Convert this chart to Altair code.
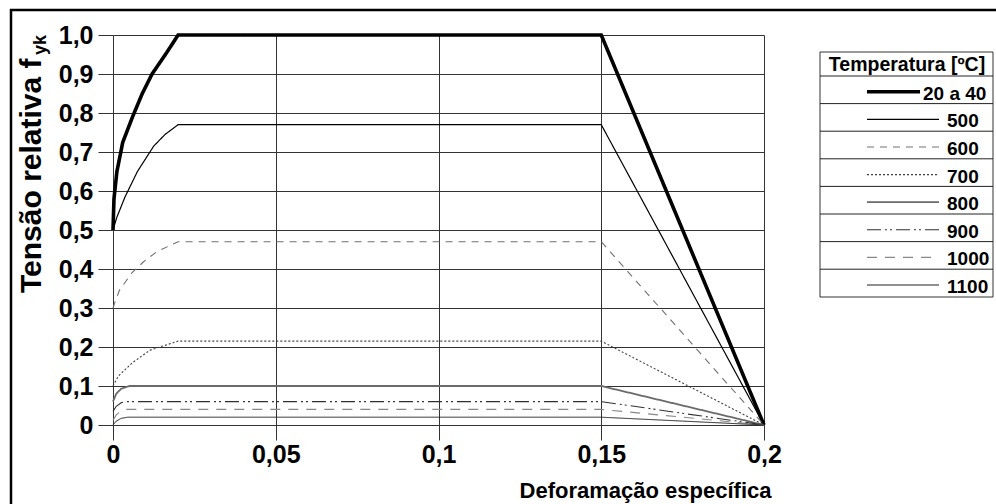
import altair as alt
import pandas as pd

FONT = "Liberation Sans"

# ---- data ----
temps = ["20 a 40", "500", "600", "700", "800", "900", "1000", "1100"]

eps_20 = [0, 0.0003, 0.0012, 0.003, 0.006, 0.009, 0.012, 0.0165, 0.02, 0.15, 0.2]
sig_20 = [0.50, 0.58, 0.65, 0.725, 0.79, 0.85, 0.90, 0.955, 1.0, 1.0, 0.0]

eps_500 = [0, 0.0012, 0.0037, 0.0075, 0.0125, 0.016, 0.02, 0.15, 0.2]
sig_500 = [0.50, 0.533, 0.585, 0.65, 0.715, 0.745, 0.77, 0.77, 0.0]

eps_600 = [0, 0.0006, 0.002, 0.0058, 0.0093, 0.0134, 0.02, 0.15, 0.2]
sig_600 = [0.30, 0.315, 0.346, 0.39, 0.418, 0.444, 0.47, 0.47, 0.0]

eps_700 = [0, 0.0016, 0.006, 0.0114, 0.0144, 0.02, 0.15, 0.2]
sig_700 = [0.10, 0.125, 0.16, 0.192, 0.20, 0.215, 0.215, 0.0]

eps_800 = [0, 0.001, 0.0025, 0.005, 0.15, 0.2]
sig_800 = [0.06, 0.08, 0.093, 0.10, 0.10, 0.0]

eps_900 = [0, 0.001, 0.0025, 0.004, 0.15, 0.2]
sig_900 = [0.035, 0.048, 0.057, 0.06, 0.06, 0.0]

eps_1000 = [0, 0.001, 0.0025, 0.004, 0.15, 0.2]
sig_1000 = [0.012, 0.026, 0.036, 0.04, 0.04, 0.0]

eps_1100 = [0, 0.001, 0.0025, 0.0045, 0.15, 0.2]
sig_1100 = [0.0, 0.01, 0.017, 0.02, 0.02, 0.0]

x_ticks = [0, 0.05, 0.1, 0.15, 0.2]
y_ticks = [0, 0.1, 0.2, 0.3, 0.4, 0.5, 0.6, 0.7, 0.8, 0.9, 1.0]

# ---- styles ----
colors = ["#000000", "#000000", "#707070", "#404040", "#6a6a6a", "#303030", "#888888", "#202020"]
widths = [3.6, 1.2, 1.1, 1.1, 1.8, 1.1, 1.1, 1.0]
dashes = [[1, 0], [1, 0], [7, 6], [2, 2], [1, 0], [14, 4, 2, 3, 2, 4], [10, 8], [1, 0]]

eps_all = [eps_20, eps_500, eps_600, eps_700, eps_800, eps_900, eps_1000, eps_1100]
sig_all = [sig_20, sig_500, sig_600, sig_700, sig_800, sig_900, sig_1000, sig_1100]

rows = []
for t, es, ss in zip(temps, eps_all, sig_all):
    for i, (e, s) in enumerate(zip(es, ss)):
        rows.append({"temp": t, "eps": e, "sig": s, "idx": i})
df = pd.DataFrame(rows)

legend_df = pd.DataFrame({"temp": temps, "row": list(range(len(temps)))})

color_scale = alt.Scale(domain=temps, range=colors)
dash_scale = alt.Scale(domain=temps, range=dashes)

# nested conditional expression: temperature label -> stroke width
width_expr = str(widths[-1])
for t, w in reversed(list(zip(temps[:-1], widths[:-1]))):
    width_expr = f"(datum.temp === '{t}' ? {w} : {width_expr})"

W, H = 651, 390

xaxis = alt.Axis(
    values=x_ticks,
    labelExpr="replace(format(datum.value, '~g'), '.', ',')",
    grid=True, gridColor="#333333", gridWidth=1,
    tickSize=15, tickColor="#333333", domain=False,
    labelFont=FONT, labelFontSize=25, labelFontWeight="bold", labelColor="black",
    labelPadding=2, labelFlush=False, labelOverlap=False,
    title="Deforamação específica", titleFont=FONT, titleFontSize=22,
    titleFontWeight="bold", titleColor="black",
    titleAnchor="end", titleAlign="right", titleBaseline="alphabetic",
    titleX=W + 7, titleY=72,
)
yaxis = alt.Axis(
    values=y_ticks,
    labelExpr="datum.value == 0 ? '0' : replace(format(datum.value, '.1f'), '.', ',')",
    grid=True, gridColor="#333333", gridWidth=1,
    tickSize=15, tickColor="#333333", domain=False,
    labelFont=FONT, labelFontSize=25, labelFontWeight="bold", labelColor="black",
    labelPadding=5, labelOverlap=False, labelFlush=False,
    title=None,
)

lines = alt.Chart(df).transform_calculate(sw=width_expr).mark_line(
    strokeCap="butt", strokeJoin="miter"
).encode(
    x=alt.X("eps:Q", scale=alt.Scale(domain=[0, 0.2], nice=False), axis=xaxis),
    y=alt.Y("sig:Q", scale=alt.Scale(domain=[0, 1], nice=False), axis=yaxis),
    color=alt.Color("temp:N", scale=color_scale, legend=None),
    strokeWidth=alt.StrokeWidth("sw:Q", scale=None, legend=None),
    strokeDash=alt.StrokeDash("temp:N", scale=dash_scale, legend=None),
    order=alt.Order("idx:Q"),
    detail="temp:N",
)

one = pd.DataFrame({"k": [0]})

# y-axis title with subscript
ytitle = alt.Chart(one).mark_text(
    text="Tensão relativa f", font=FONT, fontSize=30, fontWeight="bold",
    angle=270, align="left", baseline="alphabetic", color="black",
).encode(x=alt.value(-72), y=alt.value(258))
ysub = alt.Chart(one).mark_text(
    text="yk", font=FONT, fontSize=18, fontWeight="bold",
    angle=270, align="left", baseline="alphabetic", color="black",
).encode(x=alt.value(-67), y=alt.value(20))

# outer frame (left and top edges visible)
frame_l = alt.Chart(one).mark_rule(color="black", strokeWidth=2.5).encode(
    x=alt.value(-102), y=alt.value(-26), y2=alt.value(500))
frame_t = alt.Chart(one).mark_rule(color="black", strokeWidth=2.5).encode(
    x=alt.value(-103), x2=alt.value(900), y=alt.value(-25))

# ---- legend table ----
LX0, LX1 = 707, 880
TOP, TITLE_B, ROW_H = 17, 41, 27.6

box = alt.Chart(one).mark_rect(fill="white", stroke="#333333", strokeWidth=1).encode(
    x=alt.value(LX0), x2=alt.value(LX1), y=alt.value(TOP), y2=alt.value(262))

ltitle = alt.Chart(one).mark_text(
    text="Temperatura [ºC]", font=FONT, fontSize=19.5, fontWeight="bold",
    align="center", baseline="middle", color="black",
).encode(x=alt.value((LX0 + LX1) / 2 + 0.5), y=alt.value(30))

leg_base = alt.Chart(legend_df).transform_calculate(
    sep_y=f"{TITLE_B} + {ROW_H} * datum.row",
    line_y=f"{TITLE_B} + {ROW_H} * (datum.row + 0.5) + 2",
    text_y=f"{TITLE_B} + {ROW_H} * (datum.row + 0.5) + 4",
    lx1="754",
    lx2="datum.temp === '20 a 40' ? 807 : 826",
    sx1=f"{LX0}",
    sx2=f"{LX1}",
    tx="datum.temp === '20 a 40' ? 810 : 834",
    sw=width_expr,
)

seps = leg_base.mark_rule(color="#222222", strokeWidth=1).encode(
    x=alt.X("sx1:Q", scale=None, axis=None),
    x2=alt.X2("sx2:Q"),
    y=alt.Y("sep_y:Q", scale=None, axis=None),
)
samples = leg_base.mark_rule(strokeCap="butt").encode(
    x=alt.X("lx1:Q", scale=None, axis=None),
    x2=alt.X2("lx2:Q"),
    y=alt.Y("line_y:Q", scale=None, axis=None),
    color=alt.Color("temp:N", scale=color_scale, legend=None),
    strokeWidth=alt.StrokeWidth("sw:Q", scale=None, legend=None),
    strokeDash=alt.StrokeDash("temp:N", scale=dash_scale, legend=None),
)
labels = leg_base.mark_text(
    font=FONT, fontSize=19, fontWeight="bold", align="left", baseline="middle", color="black"
).encode(
    x=alt.X("tx:Q", scale=None, axis=None),
    y=alt.Y("text_y:Q", scale=None, axis=None),
    text="temp:N",
)

chart = alt.layer(
    lines, ytitle, ysub, frame_l, frame_t, box, ltitle, seps, samples, labels
).properties(
    width=W, height=H,
    autosize=alt.AutoSizeParams(type="none"),
    padding={"left": 113, "top": 35, "right": 232, "bottom": 79},
    background="white",
).resolve_scale(x="independent", y="independent").configure_view(stroke=None)

chart.save("out.html", embed_options={"renderer": "svg", "actions": False})
